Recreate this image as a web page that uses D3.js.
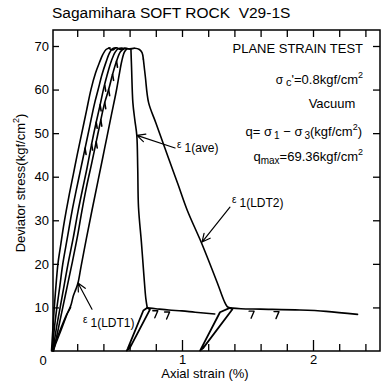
<!DOCTYPE html>
<html>
<head>
<meta charset="utf-8">
<script src="https://cdn.jsdelivr.net/npm/d3@7"></script>
<style>
  body { margin: 0; background: #fff; }
  svg { display: block; font-family: "Liberation Sans", Arial, sans-serif; }
</style>
</head>
<body>
<div id="graph"></div>
<script>
// [axial strain (%), deviator stress (kgf/cm2)]
const curveA = [[0.004,0],[0.012,4],[0.025,10],[0.038,15],[0.053,20],[0.075,24.5],[0.095,28.5],[0.115,32],[0.14,36],[0.17,40.5],[0.2,45],[0.235,50],[0.27,55],[0.305,60],[0.34,63.8],[0.37,66.2],[0.395,68],[0.42,69.2],[0.45,69.6]];
const curveB = [[0.01,0],[0.025,5],[0.045,10],[0.068,15],[0.09,20],[0.125,26],[0.16,32],[0.19,36.5],[0.225,41.5],[0.26,46.5],[0.295,51.5],[0.33,56.5],[0.36,60],[0.39,63.5],[0.42,66.3],[0.445,68.3],[0.47,69.4],[0.5,69.6]];
const curveC = [[0.015,0],[0.04,5],[0.07,10],[0.1,15],[0.13,20],[0.17,26],[0.206,32],[0.24,37],[0.275,42],[0.31,47.5],[0.345,52.5],[0.375,56.5],[0.4,60],[0.43,63.5],[0.46,66.5],[0.49,68.6],[0.515,69.4],[0.55,69.5]];
const curveD = [[0.02,0],[0.055,5],[0.09,10],[0.125,15],[0.16,20],[0.2,26],[0.235,32],[0.27,37.5],[0.31,43],[0.345,48],[0.38,53],[0.41,57],[0.44,60],[0.47,63.5],[0.5,66.5],[0.53,68.7],[0.56,69.4],[0.6,69.3]];
const ldt1 = [[0.012,0.3],[0.03,1.8],[0.06,4],[0.09,6.3],[0.12,8.4],[0.14,9.6],[0.155,10.8],[0.17,12.6],[0.19,14.2],[0.206,15.6],[0.23,19.5],[0.27,25.8],[0.313,32.3],[0.36,39.2],[0.41,46.6],[0.46,54],[0.5,59.9],[0.52,63.3],[0.54,66.5],[0.56,68.6],[0.58,69.4]];
const ldt1Reload = [[0.02,0.4],[0.08,5],[0.125,8.6],[0.15,10]];
const plateau = [[0.44,69.5],[0.47,69.1],[0.5,69.6],[0.53,69.2],[0.56,69.5],[0.6,69.3],[0.64,69.5],[0.675,69.2],[0.695,68.5],[0.705,67]];
const aveDrop = [[0.61,69.4],[0.615,65],[0.625,57],[0.64,53],[0.655,49.5],[0.662,42],[0.668,33],[0.69,25],[0.71,17],[0.724,12],[0.735,9.9]];
const ldt2Drop = [[0.705,67],[0.72,63],[0.745,57],[0.8,52.4],[0.9,44],[0.97,38.2],[1.04,32.3],[1.153,24.5],[1.27,15.6],[1.32,11.6],[1.345,10.2],[1.365,9.9]];
const residualAve = [[0.735,9.9],[0.8,9.7],[0.9,9.4],[1.0,9.2],[1.1,8.9],[1.25,8.5]];
const residualLdt2 = [[1.365,9.9],[1.45,9.7],[1.6,9.6],[1.9,9.4],[2.1,9.1],[2.34,8.4]];
const loopAve = [[0.735,9.9],[0.705,9.3],[0.585,0.5],[0.578,0.1],[0.6,0.6],[0.755,9.5],[0.735,9.9]];
const loopLdt2 = [[1.365,9.9],[1.29,8.9],[1.145,0.5],[1.138,0.1],[1.16,0.6],[1.385,9.6],[1.365,9.9]];
const spikes = [[0.26,46.5],[0.31,47.5],[0.345,52.5],[0.375,56.5],[0.41,61],[0.345,48],[0.38,53],[0.41,57],[0.44,60],[0.47,63.5],[0.5,66.5]];
const hooks = [[0.80,9.7],[0.89,9.4],[1.535,9.6],[1.725,9.5]];

const xTicks = d3.range(0.2, 2.41, 0.2);
const xLabels = [1, 2];
const yTicks = [10, 20, 30, 40, 50, 60, 70];

const width = 385, height = 384;
const frame = {left: 53, right: 380, top: 30, bottom: 351};

const svg = d3.select("#graph").append("svg")
  .attr("width", width)
  .attr("height", height);

const x = d3.scaleLinear().domain([0, 1]).range([51, 182]);
const y = d3.scaleLinear().domain([0, 70]).range([351, 46]);

// frame
svg.append("rect")
  .attr("x", frame.left).attr("y", frame.top)
  .attr("width", frame.right - frame.left)
  .attr("height", frame.bottom - frame.top)
  .attr("fill", "none").attr("stroke", "#000").attr("stroke-width", 1.5);

// ticks, all pointing inward
function ticks(axis, tx, ty) {
  const g = svg.append("g").attr("transform", "translate(" + tx + "," + ty + ")").call(axis);
  g.select(".domain").remove();
  g.selectAll("line").attr("stroke", "#000").attr("stroke-width", 1.3);
  return g;
}
ticks(d3.axisBottom(x).tickValues(xTicks.filter(v => Math.abs(v - 1) > 0.01 && Math.abs(v - 2) > 0.01)).tickSize(-7).tickFormat(""), 0, frame.bottom);
ticks(d3.axisBottom(x).tickValues(xLabels).tickSize(-11).tickPadding(4).tickFormat(d3.format("d")), 0, frame.bottom);
ticks(d3.axisTop(x).tickValues(xTicks).tickSize(-7).tickFormat(""), 0, frame.top);
ticks(d3.axisLeft(y).tickValues(yTicks).tickSize(-6).tickPadding(4), frame.left, 0);
ticks(d3.axisRight(y).tickValues(yTicks).tickSize(-7).tickFormat(""), frame.right, 0);
svg.selectAll(".tick text").attr("font-size", 13).attr("fill", "#000").attr("font-family", "Liberation Sans, Arial, sans-serif");
svg.append("text").attr("x", x(0) - 8).attr("y", y(0) + 14)
  .attr("text-anchor", "middle").attr("font-size", 13).text("0");

// curves
const smooth = d3.line().x(d => x(d[0])).y(d => y(d[1])).curve(d3.curveCatmullRom.alpha(0.5));
const straight = d3.line().x(d => x(d[0])).y(d => y(d[1]));
const curves = svg.append("g").attr("fill", "none").attr("stroke", "#000")
  .attr("stroke-linejoin", "round").attr("stroke-linecap", "round");

[curveA, curveB, curveC, curveD, ldt1, plateau, aveDrop, ldt2Drop, residualAve, residualLdt2].forEach(s => {
  curves.append("path").attr("d", smooth(s)).attr("stroke-width", 1.6);
});
curves.append("path").attr("d", straight(ldt1Reload)).attr("stroke-width", 1.4);
[loopAve, loopLdt2].forEach(s => {
  curves.append("path").attr("d", straight(s)).attr("stroke-width", 1.8);
});

// short relaxation spikes on the loading curves
curves.selectAll(".spike").data(spikes).enter().append("line")
  .attr("class", "spike")
  .attr("x1", d => x(d[0])).attr("y1", d => y(d[1]))
  .attr("x2", d => x(d[0]) + 1).attr("y2", d => y(d[1]) + 6)
  .attr("stroke-width", 1.6);

// small hooks hanging from the residual lines
curves.selectAll(".hook").data(hooks).enter().append("path")
  .attr("class", "hook")
  .attr("d", d => {
    const px = x(d[0]), py = y(d[1]);
    return "M" + (px - 3) + "," + (py + 2) + "L" + (px + 2) + "," + (py + 2) + "L" + (px - 1) + "," + (py + 9);
  })
  .attr("stroke-width", 1.4);

// labelled arrows: [tail strain, tail stress, tip strain, tip stress]
const arrows = [[0.947, 46.6, 0.656, 49.5], [1.366, 33.0, 1.153, 25.0], [0.313, 9.6, 0.206, 15.6]];
arrows.forEach(a => {
  const x1 = x(a[0]), y1 = y(a[1]), x2 = x(a[2]), y2 = y(a[3]);
  const ang = Math.atan2(y1 - y2, x1 - x2);
  const len = 9, spread = 0.45;
  curves.append("path")
    .attr("d", "M" + x1 + "," + y1 + "L" + x2 + "," + y2 +
      "M" + (x2 + len * Math.cos(ang + spread)) + "," + (y2 + len * Math.sin(ang + spread)) +
      "L" + x2 + "," + y2 +
      "L" + (x2 + len * Math.cos(ang - spread)) + "," + (y2 + len * Math.sin(ang - spread)))
    .attr("stroke-width", 1.2);
});

// strain labels
function strainLabel(px, py, sub) {
  const t = svg.append("text").attr("x", px).attr("y", py).attr("font-size", 12);
  t.append("tspan").attr("font-size", 10).text("ε");
  t.append("tspan").attr("dx", 3).attr("dy", 4).text(sub);
}
strainLabel(177, 148, "1(ave)");
strainLabel(232, 203, "1(LDT2)");
strainLabel(83, 323, "1(LDT1)");

// title
svg.append("text").attr("x", 52).attr("y", 18).attr("font-size", 15.5)
  .style("white-space", "pre").text("Sagamihara SOFT ROCK  V29-1S");

// test conditions
svg.append("text").attr("x", 363).attr("y", 53).attr("font-size", 13)
  .attr("text-anchor", "end").text("PLANE STRAIN TEST");

const sc = svg.append("text").attr("x", 363).attr("y", 84).attr("font-size", 13).attr("text-anchor", "end");
sc.append("tspan").attr("font-size", 12).text("σ");
sc.append("tspan").attr("font-size", 11).attr("dx", 3).attr("dy", 2).text("c");
sc.append("tspan").attr("dy", -2).text("'=0.8kgf/cm");
sc.append("tspan").attr("font-size", 9).attr("dy", -6).text("2");

svg.append("text").attr("x", 332).attr("y", 108).attr("font-size", 13)
  .attr("text-anchor", "middle").text("Vacuum");

const qd = svg.append("text").attr("x", 362).attr("y", 136).attr("font-size", 13).attr("text-anchor", "end");
qd.append("tspan").text("q= σ");
qd.append("tspan").attr("font-size", 10).attr("dx", 2).attr("dy", 3).text("1");
qd.append("tspan").attr("dy", -3).text(" − σ");
qd.append("tspan").attr("font-size", 10).attr("dx", 2).attr("dy", 3).text("3");
qd.append("tspan").attr("dy", -3).text("(kgf/cm");
qd.append("tspan").attr("font-size", 9).attr("dy", -6).text("2");
qd.append("tspan").attr("dy", 6).text(")");

const qm = svg.append("text").attr("x", 363).attr("y", 161).attr("font-size", 13).attr("text-anchor", "end");
qm.append("tspan").text("q");
qm.append("tspan").attr("font-size", 10).attr("dy", 3).text("max");
qm.append("tspan").attr("dy", -3).text("=69.36kgf/cm");
qm.append("tspan").attr("font-size", 9).attr("dy", -6).text("2");

// axis titles
svg.append("text").attr("x", 205).attr("y", 378).attr("font-size", 13)
  .attr("text-anchor", "middle").text("Axial strain (%)");
const yl = svg.append("text").attr("transform", "translate(25,183) rotate(-90)")
  .attr("font-size", 13).attr("text-anchor", "middle");
yl.append("tspan").text("Deviator stress(kgf/cm");
yl.append("tspan").attr("font-size", 9).attr("dy", -6).text("2");
yl.append("tspan").attr("dy", 6).text(")");
</script>
</body>
</html>
